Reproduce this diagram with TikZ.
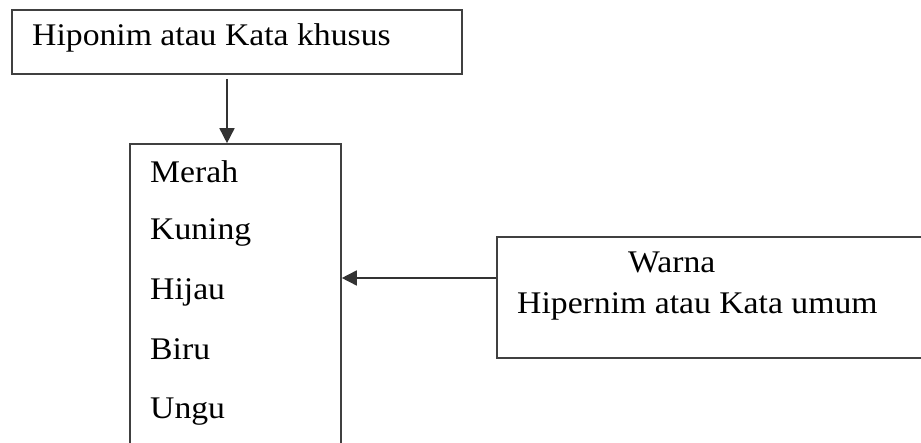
\documentclass[tikz,border=0pt]{standalone}
\usepackage{fontspec}
\setmainfont[FakeStretch=1.07]{Liberation Serif}
\usetikzlibrary{arrows.meta}
\tikzset{
  kotak/.style={draw=black!75,line width=1.6pt,rectangle,inner sep=0pt},
  teks/.style={anchor=base west,inner sep=0pt,font=\fontsize{31.5}{36}\selectfont},
  panah/.style={draw=black!80,line width=1.6pt,-{Triangle[length=15pt,width=15pt]}}
}
\begin{document}
\begin{tikzpicture}[x=1pt,y=-1pt]
   \useasboundingbox (0,0) rectangle (921,443);
   \clip (0,0) rectangle (921,443);
   \node[kotak,minimum width=450pt,minimum height=64pt] (khusus) at (237,42) {};
   \node[kotak,minimum width=211pt,minimum height=326pt] (anggota) at (235.5,307) {};
   \node[kotak,minimum width=440pt,minimum height=121pt] (umum) at (717,297.5) {};
   \node[teks] (hiponim) at (32,46) {Hiponim atau Kata khusus};
   \node[teks] (merah) at (150,183) {Merah};
   \node[teks] (kuning) at (150,240) {Kuning};
   \node[teks] (hijau) at (150,300) {Hijau};
   \node[teks] (biru) at (150,360) {Biru};
   \node[teks] (ungu) at (150,418) {Ungu};
   \node[teks] (warna) at (628,273) {Warna};
   \node[teks] (hipernim) at (517,314) {Hipernim atau Kata umum};
   \draw[panah,shorten <=4pt] ([xshift=-10pt]khusus.south) -- ([xshift=-10pt]khusus.south |- anggota.north);
   \draw[panah] ([yshift=19.5pt]umum.west) -- ([yshift=19.5pt]umum.west -| anggota.east);
\end{tikzpicture}
\end{document}
